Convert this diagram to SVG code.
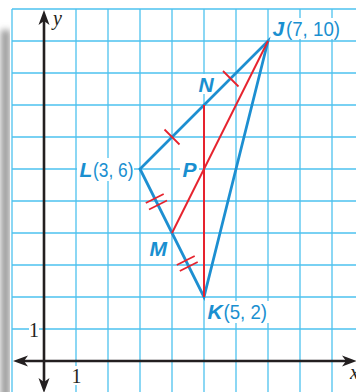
<svg xmlns="http://www.w3.org/2000/svg" xmlns:xlink="http://www.w3.org/1999/xlink" width="356" height="392" viewBox="0 0 356 392">
  <defs>
    <style>
      .grid line { stroke: #4dc2ef; stroke-width: 1.3; }
      .axis { stroke: #231f20; stroke-width: 2.6; fill: none; }
      .arrow { fill: #231f20; }
      .side { stroke: #1d8fd1; stroke-width: 2.8; fill: none; stroke-linejoin: miter; stroke-linecap: round; }
      .median { stroke: #e6232e; stroke-width: 2; fill: none; }
      .tick { stroke: #e6232e; stroke-width: 1.8; }
      .knock { fill: #ffffff; }
      .lbl { font-family: "Liberation Sans", Arial, sans-serif; font-size: 21px; fill: #1a8fd0; }
      .pt { font-weight: bold; font-style: italic; }
      .num { font-family: "Liberation Serif", "Times New Roman", serif; font-size: 20px; fill: #231f20; }
      .ax { font-family: "Liberation Serif", "Times New Roman", serif; font-size: 20px; font-style: italic; fill: #231f20; }
    </style>
    <filter id="blur" x="-2" y="-0.2" width="5" height="1.4">
      <feGaussianBlur stdDeviation="3.2"/>
    </filter>
    <path id="arr" d="M0,0 L-15,-5.5 L-11,0 L-15,5.5 Z"/>
  </defs>

  <rect x="0" y="0" width="356" height="392" fill="#ffffff"/>
  <!-- page shadow -->
  <rect x="1" y="30" width="9" height="380" fill="#9a9a9a" filter="url(#blur)"/>
  <rect x="10" y="9" width="346" height="383" fill="#ffffff"/>

  <!-- grid -->
  <g class="grid">
    <line x1="12" y1="9" x2="12" y2="392"/>
    <line x1="76" y1="9" x2="76" y2="392"/>
    <line x1="108" y1="9" x2="108" y2="392"/>
    <line x1="140" y1="9" x2="140" y2="392"/>
    <line x1="172" y1="9" x2="172" y2="392"/>
    <line x1="204" y1="9" x2="204" y2="392"/>
    <line x1="236" y1="9" x2="236" y2="392"/>
    <line x1="268" y1="9" x2="268" y2="392"/>
    <line x1="300" y1="9" x2="300" y2="392"/>
    <line x1="332" y1="9" x2="332" y2="392"/>
    <line x1="12" y1="9" x2="356" y2="9"/>
    <line x1="12" y1="41" x2="356" y2="41"/>
    <line x1="12" y1="73" x2="356" y2="73"/>
    <line x1="12" y1="105" x2="356" y2="105"/>
    <line x1="12" y1="137" x2="356" y2="137"/>
    <line x1="12" y1="169" x2="356" y2="169"/>
    <line x1="12" y1="201" x2="356" y2="201"/>
    <line x1="12" y1="233" x2="356" y2="233"/>
    <line x1="12" y1="265" x2="356" y2="265"/>
    <line x1="12" y1="297" x2="356" y2="297"/>
    <line x1="12" y1="329" x2="356" y2="329"/>
  </g>

  <!-- label knockouts -->
  <g id="knockouts">
    <rect class="knock" x="270" y="18" width="72" height="21"/>
    <rect class="knock" x="206" y="301" width="63" height="22"/>
    <rect class="knock" x="77" y="158" width="57" height="23"/>
    <rect class="knock" x="196" y="74" width="19" height="20"/>
    <rect class="knock" x="180" y="158" width="19" height="22"/>
    <rect class="knock" x="146" y="238" width="24" height="21"/>
    <rect class="knock" x="29" y="321" width="10" height="18"/>
    <rect class="knock" x="71" y="366" width="11" height="19"/>
  </g>

  <!-- axes -->
  <g id="axes">
    <line class="axis" x1="44" y1="20" x2="44" y2="383"/>
    <line class="axis" x1="23" y1="361" x2="347" y2="361"/>
    <use class="arrow" xlink:href="#arr" href="#arr" transform="translate(44,10) rotate(-90)"/>
    <use class="arrow" xlink:href="#arr" href="#arr" transform="translate(44,393) rotate(90)"/>
    <use class="arrow" xlink:href="#arr" href="#arr" transform="translate(13,361) rotate(180)"/>
    <use class="arrow" xlink:href="#arr" href="#arr" transform="translate(357,361)"/>
    <text class="ax" x="53" y="25">y</text>
    <text class="ax" x="350" y="379">x</text>
    <text class="num" x="34" y="337" text-anchor="middle">1</text>
    <text class="num" x="76.5" y="383" text-anchor="middle">1</text>
  </g>

  <!-- connectors -->
  <g id="connectors">
    <polygon class="side" points="268,41 204,297 140,169"/>
    <line class="median" x1="204" y1="105" x2="204" y2="297"/>
    <line class="median" x1="268" y1="41" x2="172" y2="233"/>
    <!-- congruence ticks -->
    <line class="tick" x1="164.5" y1="129.5" x2="179.5" y2="144.5"/>
    <line class="tick" x1="223" y1="71" x2="238.5" y2="86.5"/>
    <line class="tick" x1="145.8" y1="203" x2="163.7" y2="194"/>
    <line class="tick" x1="149" y1="209.5" x2="167" y2="200.5"/>
    <line class="tick" x1="176.8" y1="265" x2="194.7" y2="256"/>
    <line class="tick" x1="179.8" y1="271" x2="197.7" y2="262"/>
  </g>

  <!-- nodes -->
  <g id="node-J">
    <text class="lbl pt" x="272.5" y="35.5">J</text>
    <text class="lbl" x="286" y="35.5" textLength="54" lengthAdjust="spacingAndGlyphs">(7, 10)</text>
  </g>
  <g id="node-K">
    <text class="lbl pt" x="207.5" y="319">K</text>
    <text class="lbl" x="223.5" y="319" textLength="43.5" lengthAdjust="spacingAndGlyphs">(5, 2)</text>
  </g>
  <g id="node-L">
    <text class="lbl pt" x="79.5" y="177">L</text>
    <text class="lbl" x="93" y="177" textLength="40.5" lengthAdjust="spacingAndGlyphs">(3, 6)</text>
  </g>
  <g id="node-N">
    <text class="lbl pt" x="198.5" y="92">N</text>
  </g>
  <g id="node-P">
    <text class="lbl pt" x="182.5" y="177">P</text>
  </g>
  <g id="node-M">
    <text class="lbl pt" x="149.5" y="256">M</text>
  </g>
</svg>
